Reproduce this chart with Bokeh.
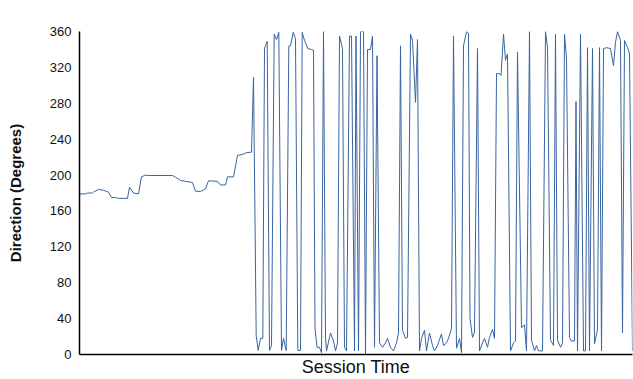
from bokeh.plotting import figure
from bokeh.models import Range1d, FixedTicker
from bokeh.embed import file_html
from bokeh.resources import INLINE

# Session time (s) and direction (degrees)
session_time = [0, 6, 8, 13, 14, 19, 24, 29, 32, 36, 39, 48, 50, 54, 59, 62, 66, 69, 93, 96,
                101, 106, 113, 116, 121, 126, 129, 138, 141, 146, 148, 154, 158, 163, 167, 172,
                174, 176.7, 178.7, 181, 183.3, 185, 187.7, 190, 192, 194.7, 197, 199.3, 202,
                204, 206.7, 209.3, 211, 213.7, 216, 218.3, 221, 222.7, 225, 228.3, 231.7, 234,
                235.5, 237.5, 240, 242, 244, 246, 247, 251, 254, 256, 258, 260, 263, 265, 267,
                270, 272, 275, 276.5, 279, 281, 284, 286, 288, 291, 293, 295, 297.5, 300, 303,
                306, 308, 311, 314, 317, 319, 321, 323, 326, 328, 331, 333, 336, 338, 340, 342,
                345, 347, 350, 353, 355, 358, 362, 364, 367, 369, 372, 374, 377, 380, 382, 384,
                387, 389, 390.5, 393, 395, 398, 400, 403, 405, 408, 410, 413, 415, 417, 420,
                421.5, 424, 426, 428, 431, 434, 436, 438, 442, 445, 447, 450, 452, 455, 457,
                459, 463, 466, 468, 471, 472.5, 474, 476, 478, 481, 483, 485, 487, 490, 492,
                495, 496.5, 498, 501, 504, 506, 508, 510, 513, 515, 518, 520, 522, 524, 527,
                531, 534, 536, 538, 541, 543, 545, 548, 550, 553]
direction = [179, 179, 180, 180, 181, 184, 183, 181, 175, 175, 174, 174, 186.5, 180, 179, 198,
             200, 199.5, 199.5, 197.6, 194, 193, 191.7, 182, 181.7, 184.7, 193.6, 193, 189,
             189, 198, 198, 222, 223, 225, 225.5, 309, 21, 4.5, 18, 18, 341, 349, 4.5, 10,
             357, 351, 359, 4.5, 18, 4.5, 344, 344, 359, 352, 4.5, 4.5, 359, 350, 341, 340,
             339, 29, 8, 8, 2, 360, 18, 4, 24, 15, 4, 13, 355, 341, 8, 4, 355, 355, 4, 355,
             4, 360, 360, 1, 340, 340, 355, 8, 333, 13, 8, 13, 18, 8, 4, 13, 24, 344, 27, 18,
             19, 357, 350, 281, 351, 4, 18, 27, 4, 24, 10, 4, 10, 23, 10, 13, 18, 29, 355, 7,
             18, 2, 344, 360, 358, 40, 19, 25, 341, 4, 13, 18, 8, 19, 28, 18, 313, 313, 311,
             357, 328, 335, 4, 13, 15, 337, 30, 33, 4, 360, 16, 4, 10, 4, 4, 360, 342, 16, 13,
             10, 357, 16, 8, 13, 357, 330, 19, 15, 15, 282, 4, 357, 4, 4, 342, 4, 341, 12, 28,
             342, 4, 341, 342, 341, 322, 348, 360, 350, 24, 350, 342, 336, 4]

y_ticks = [0, 40, 80, 120, 160, 200, 240, 280, 320, 360]

FONT = "Liberation Sans"

p = figure(width=633, height=379, output_backend="svg", toolbar_location=None,
           x_range=Range1d(min(session_time), max(session_time)),
           y_range=Range1d(0, 360),
           min_border_left=79, min_border_top=31, min_border_right=1, min_border_bottom=25)

p.line(session_time, direction, line_color="#3a64a0", line_width=1)

p.xgrid.visible = False
p.ygrid.visible = False
p.outline_line_color = None
p.background_fill_color = "white"
p.border_fill_color = "white"

p.yaxis.ticker = FixedTicker(ticks=y_ticks)
p.yaxis.major_tick_line_color = None
p.yaxis.minor_tick_line_color = None
p.yaxis.axis_line_color = "black"
p.yaxis.axis_line_width = 1.5
p.yaxis.major_label_text_font = FONT
p.yaxis.major_label_text_font_size = "13px"
p.yaxis.major_label_text_color = "#111111"
p.yaxis.major_label_standoff = 2
p.yaxis.axis_label = "Direction (Degrees)"
p.yaxis.axis_label_text_font = FONT
p.yaxis.axis_label_text_font_size = "15px"
p.yaxis.axis_label_text_font_style = "bold"
p.yaxis.axis_label_text_color = "#111111"
p.yaxis.axis_label_standoff = 23

p.xaxis.ticker = FixedTicker(ticks=[])
p.xaxis.major_tick_line_color = None
p.xaxis.minor_tick_line_color = None
p.xaxis.major_label_text_font_size = "0px"
p.xaxis.axis_line_color = "black"
p.xaxis.axis_line_width = 1.5
p.xaxis.axis_label = "Session Time"
p.xaxis.axis_label_text_font = FONT
p.xaxis.axis_label_text_font_size = "18px"
p.xaxis.axis_label_text_font_style = "normal"
p.xaxis.axis_label_text_color = "#111111"
p.xaxis.axis_label_standoff = 2

open("out.html", "w").write(file_html(p, INLINE))
